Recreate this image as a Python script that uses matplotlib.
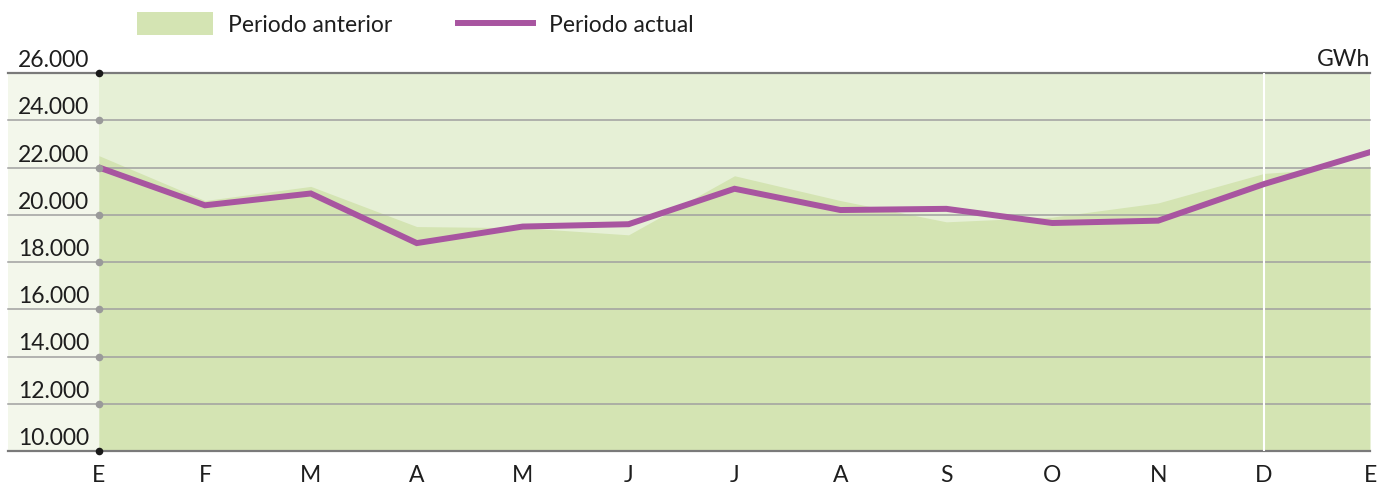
import numpy as np
import matplotlib
matplotlib.use("Agg")
import matplotlib.pyplot as plt
from matplotlib.patches import Rectangle
from matplotlib.lines import Line2D
import matplotlib.transforms as mtransforms

plt.rcParams['font.family'] = ['Lato', 'DejaVu Sans']

months = ['E', 'F', 'M', 'A', 'M', 'J', 'J', 'A', 'S', 'O', 'N', 'D', 'E']
prev_period = [22500, 20600, 21200, 19500, 19450, 19150, 21650, 20600, 19700, 19900, 20500, 21750, 22050]
curr_period = [22000, 20400, 20900, 18800, 19500, 19600, 21100, 20200, 20250, 19650, 19750, 21300, 22650]
y_ticks = [10000, 12000, 14000, 16000, 18000, 20000, 22000, 24000, 26000]
y_tick_labels = ['10.000', '12.000', '14.000', '16.000', '18.000', '20.000', '22.000', '24.000', '26.000']
legend_labels = ['Periodo anterior', 'Periodo actual']
unit_label = 'GWh'

W, H = 1387, 487
fig = plt.figure(figsize=(W / 100, H / 100), dpi=100)
ax_l, ax_r, ax_t, ax_b = 99, 1370, 73, 451
ax = fig.add_axes([ax_l / W, 1 - ax_b / H, (ax_r - ax_l) / W, (ax_b - ax_t) / H])

fill_c = '#d4e4b3'
bg_c = '#e6f0d6'
panel_c = '#f3f7eb'
line_c = '#a855a0'
text_c = '#1e1e1e'
fs = 16.5

x = np.arange(len(months))
ax.set_xlim(0, len(months) - 1)
ax.set_ylim(y_ticks[0], y_ticks[-1])
ax.set_facecolor(bg_c)
for s in ax.spines.values():
    s.set_visible(False)

# left panel
left_ext = -(ax_l - 8) / (ax_r - ax_l)
ax.add_patch(Rectangle((left_ext, 0), -left_ext, 1, transform=ax.transAxes,
                       facecolor=panel_c, edgecolor='none', clip_on=False, zorder=0))

# area
ax.fill_between(x, y_ticks[0], prev_period, color=fill_c, lw=0, zorder=1)

# gridlines
trans = mtransforms.blended_transform_factory(ax.transAxes, ax.transData)
for i, v in enumerate(y_ticks):
    edge = (i == 0 or i == len(y_ticks) - 1)
    ax.plot([left_ext, 1], [v, v], transform=trans, clip_on=False,
            color='#7a7a7a' if edge else '#a0a0a0', lw=1.6 if edge else 1.1, zorder=2)
    ax.scatter([0], [v], s=30, color='#1a1a1a' if edge else '#9a9a9a', zorder=5, clip_on=False,
               linewidths=0)
    lab_tr = mtransforms.offset_copy(trans, fig=fig, x=0, y=6, units='dots')
    ax.text(-10 / (ax_r - ax_l), v, y_tick_labels[i], transform=lab_tr,
            ha='right', va='baseline', fontsize=fs, color=text_c)

# white vertical line at D
ax.axvline(x[11], color='white', lw=1.5, zorder=3)

# current line
ax.plot(x, curr_period, color=line_c, lw=4.3, zorder=4, solid_joinstyle='miter')

# x ticks
ax.set_xticks(x)
ax.set_xticklabels(months, fontsize=fs, color=text_c)
ax.tick_params(axis='x', length=0, pad=10)
ax.set_yticks([])

# unit label
unit_tr = mtransforms.offset_copy(ax.transAxes, fig=fig, x=0, y=7, units='dots')
ax.text(1, 1, unit_label, transform=unit_tr, ha='right', va='baseline', fontsize=fs, color=text_c)

# legend
fig.patches.append(Rectangle((137 / W, 1 - 35 / H), 76 / W, 23 / H, transform=fig.transFigure,
                             facecolor=fill_c, edgecolor='none'))
fig.text(228 / W, 1 - 25 / H, legend_labels[0], ha='left', va='center', fontsize=fs, color=text_c)
fig.lines.append(Line2D([458 / W, 533 / W], [1 - 23 / H, 1 - 23 / H], transform=fig.transFigure,
                        color=line_c, lw=4.3))
fig.text(549 / W, 1 - 25 / H, legend_labels[1], ha='left', va='center', fontsize=fs, color=text_c)

fig.savefig('out.png', dpi=100)
